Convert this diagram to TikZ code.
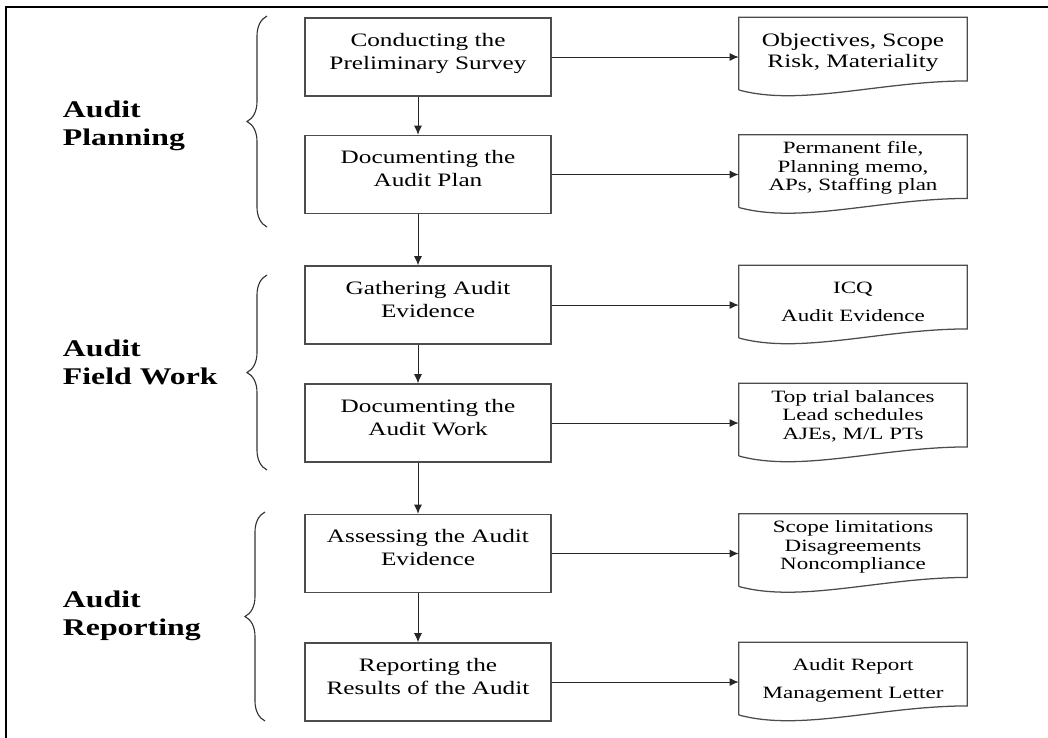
\documentclass[tikz,border=0pt]{standalone}
\usepackage{fontspec}
\setmainfont[FakeStretch=1.33]{Liberation Serif}
\usepackage{tikz}
\usetikzlibrary{arrows.meta,positioning,decorations.pathreplacing}
\tikzset{
  every node/.style={
    font=\fontsize{13.5}{16.3}\selectfont
  },
  stepbox/.style={
    shape=rectangle,
    draw=black!70,
    line width=0.9pt,
    text width=6.15cm,
    align=center,
    inner sep=0pt,
    text height=0.71cm,
    text depth=1.24cm
  },
  docbox/.style={
    shape=rectangle,
    inner sep=0pt,
    text width=5.7cm,
    align=center,
    text height=#1,
    text depth={1.8cm-#1}
  },
  smalldoc/.style={
    font=\fontsize{12.3}{13.1}\selectfont
  },
  docline/.style={
    draw=black!70,
    line width=0.9pt
  },
  phase/.style={
    anchor=west,
    align=left,
    font=\fontsize{17}{19.9}\selectfont\bfseries
  },
  flow/.style={
    -{Latex[length=0.23cm,width=0.2cm]},
    line width=0.7pt,
    draw=black!85
  },
  phasebrace/.style={
    decorate,
    decoration={brace,amplitude=0.5cm},
    draw=black!80,
    line width=0.8pt
  },
  frame/.style={
    line width=1.5pt
  }
}

\begin{document}
\begin{tikzpicture}[x=0.025cm,y=-0.025cm]
    \useasboundingbox (0,0) rectangle (1048,738);
    \draw[frame] (6,738) -- (6,7) -- (1048,7);

    % phases
    \node[phase] (planning) at (58,126) {Audit\\Planning};
    \node[phase] (fieldwork) at (58,362) {Audit\\Field Work};
    \node[phase] (reporting) at (58,616) {Audit\\Reporting};
    \draw[phasebrace] (267,227) -- (267,16);
    \draw[phasebrace] (267,470) -- (267,275);
    \draw[phasebrace] (265,721) -- (265,512);

    % steps
    \node[stepbox] (b1) at (428,57) {Conducting the\\Preliminary Survey};
    \node[stepbox] (b2) at (428,174.5) {Documenting the\\Audit Plan};
    \node[stepbox] (b3) at (428,305) {Gathering Audit\\Evidence};
    \node[stepbox] (b4) at (428,423) {Documenting the\\Audit Work};
    \node[stepbox] (b5) at (428,553.5) {Assessing the Audit\\Evidence};
    \node[stepbox] (b6) at (428,682) {Reporting the\\Results of the Audit};

    % documents
    \node[docbox=0.71cm, font=\fontsize{13.5}{14.9}\selectfont, right=4.675cm of b1.north east, anchor=north west] (d1) {Objectives, Scope\\Risk, Materiality};
    \node[docbox=0.47cm, smalldoc, right=4.675cm of b2.north east, anchor=north west] (d2) {Permanent file,\\Planning memo,\\APs, Staffing plan};
    \node[docbox=0.7cm, smalldoc, right=4.675cm of b3.north east, anchor=north west] (d3) {ICQ\\[0.24cm]Audit Evidence};
    \node[docbox=0.47cm, smalldoc, right=4.675cm of b4.north east, anchor=north west] (d4) {Top trial balances\\Lead schedules\\AJEs, M/L PTs};
    \node[docbox=0.47cm, smalldoc, right=4.675cm of b5.north east, anchor=north west] (d5) {Scope limitations\\Disagreements\\Noncompliance};
    \node[docbox=0.7cm, smalldoc, right=4.675cm of b6.north east, anchor=north west] (d6) {Audit Report\\[0.24cm]Management Letter};

    \foreach \d in {d1,d2,d3,d4,d5,d6}
      \draw[docline] (\d.south west) -- (\d.north west) -- (\d.north east) -- ([yshift=0.225cm]\d.south east)
        .. controls ([xshift=-2.15cm,yshift=0.225cm]\d.south east) and ([xshift=1.55cm,yshift=-0.425cm]\d.south west) .. (\d.south west);

    % connectors
    \foreach \i/\j in {1/2,2/3,3/4,4/5,5/6}
      \draw[flow] ([xshift=-0.25cm]b\i.south) -- ([xshift=-0.25cm]b\j.north);
    \foreach \i in {1,...,6}
      \draw[flow] (b\i.east) -- (b\i.east -| d\i.west);
\end{tikzpicture}
\end{document}
